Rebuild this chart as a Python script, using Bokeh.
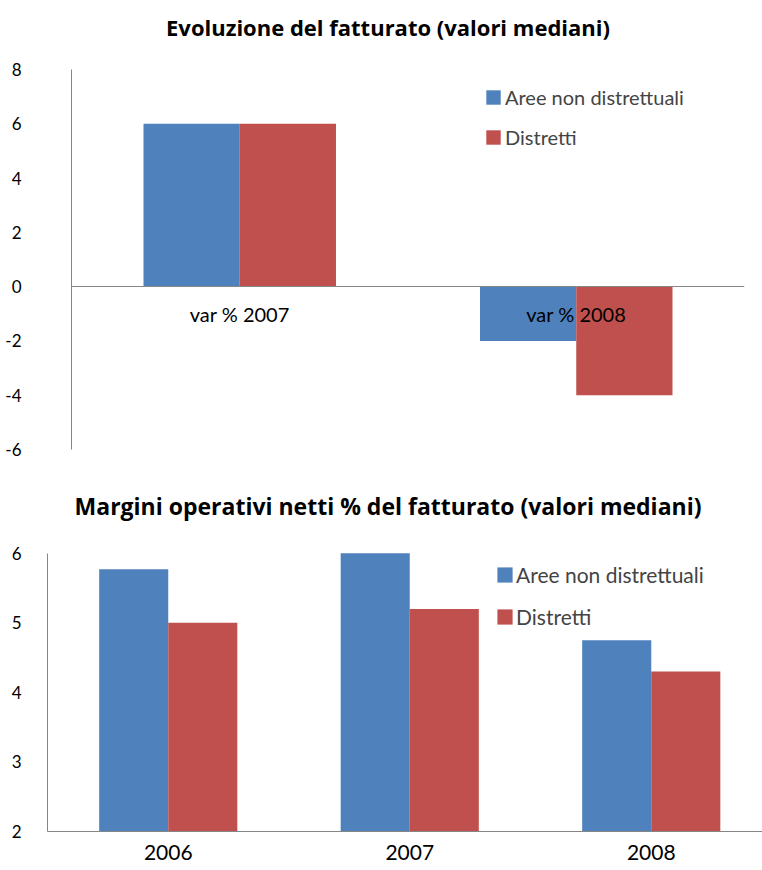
from bokeh.plotting import figure
from bokeh.models import (ColumnDataSource, FactorRange, Range1d, FixedTicker,
                          Legend, LegendItem, Label)
from bokeh.transform import dodge
from bokeh.embed import file_html
from bokeh.resources import INLINE

# ---------------- data ----------------
series = ["Aree non distrettuali", "Distretti"]
series_colors = ["#4F81BD", "#C0504D"]

title1 = "Evoluzione del fatturato (valori mediani)"
categories1 = ["var % 2007", "var % 2008"]
aree1 = [6, -2]
distretti1 = [6, -4]
y1_ticks = [-6, -4, -2, 0, 2, 4, 6, 8]

title2 = "Margini operativi netti % del fatturato (valori mediani)"
years2 = ["2006", "2007", "2008"]
aree2 = [5.77, 6.0, 4.75]
distretti2 = [5.0, 5.2, 4.3]
y2_ticks = [2, 3, 4, 5, 6]

FONT = "Lato"
TITLE_FONT = "Open Sans"
AXIS_COLOR = "#868686"
BAR_W = 0.286


def style_common(p):
    p.grid.visible = False
    p.outline_line_color = None
    p.background_fill_color = "white"
    p.border_fill_color = "white"
    for ax in p.axis:
        ax.axis_line_color = AXIS_COLOR
        ax.axis_line_width = 1
        ax.major_tick_line_color = None
        ax.minor_tick_line_color = None
        ax.major_tick_out = 0
        ax.major_tick_in = 0
        ax.major_label_text_font = FONT
        ax.major_label_text_color = "#000000"


# ---------------- chart 1 ----------------
# frame spans from the top of the figure; the visible axis covers only the data range
px1 = 380 / (max(y1_ticks) - min(y1_ticks))
src1 = ColumnDataSource(dict(cat=categories1, aree=aree1, distretti=distretti1))
p1 = figure(x_range=FactorRange(*categories1),
            y_range=Range1d(min(y1_ticks), max(y1_ticks) + 69 / px1),
            frame_width=673, frame_height=449,
            min_border_left=71, min_border_right=18,
            min_border_top=0, min_border_bottom=40,
            output_backend="svg", toolbar_location=None, tools="")
r1a = p1.vbar(x=dodge("cat", -BAR_W / 2, range=p1.x_range), top="aree", width=BAR_W,
              source=src1, fill_color=series_colors[0], line_color=None)
r1b = p1.vbar(x=dodge("cat", BAR_W / 2, range=p1.x_range), top="distretti", width=BAR_W,
              source=src1, fill_color=series_colors[1], line_color=None)
style_common(p1)
p1.yaxis.ticker = FixedTicker(ticks=y1_ticks)
p1.yaxis.bounds = (min(y1_ticks), max(y1_ticks))
p1.yaxis.major_label_overrides = {t: str(t) for t in y1_ticks}
p1.yaxis.major_label_text_font_size = "17px"
p1.yaxis.major_label_standoff = 50
p1.xaxis.fixed_location = 0
p1.xaxis.major_label_text_font_size = "20px"
p1.xaxis.major_label_standoff = 15

p1.add_layout(Label(x=316.5, y=449 - 26.5, x_units="screen", y_units="screen", text=title1,
                    text_font=TITLE_FONT, text_font_style="bold", text_font_size="22px",
                    text_align="center", text_baseline="middle", text_color="#000000"))

leg1 = Legend(items=[LegendItem(label=series[0], renderers=[r1a]),
                     LegendItem(label=series[1], renderers=[r1b])],
              location=(413, 299), padding=0, margin=0, spacing=14,
              glyph_width=18, glyph_height=18, label_height=26, label_standoff=3,
              label_text_font=FONT, label_text_font_size="20px",
              border_line_color=None, background_fill_alpha=0)
p1.add_layout(leg1)

# ---------------- chart 2 ----------------
px2 = 279 / (max(y2_ticks) - min(y2_ticks))
xpos2 = [i + 0.5 for i in range(len(years2))]
src2 = ColumnDataSource(dict(x=xpos2, aree=aree2, distretti=distretti2))
p2 = figure(x_range=Range1d(0, 715 / 241.5),
            y_range=Range1d(min(y2_ticks), max(y2_ticks) + 64 / px2),
            frame_width=715, frame_height=342,
            min_border_left=47, min_border_right=0,
            min_border_top=0, min_border_bottom=39,
            output_backend="svg", toolbar_location=None, tools="")
r2a = p2.vbar(x=dodge("x", -BAR_W / 2), top="aree", bottom=0, width=BAR_W,
              source=src2, fill_color=series_colors[0], line_color=None)
r2b = p2.vbar(x=dodge("x", BAR_W / 2), top="distretti", bottom=0, width=BAR_W,
              source=src2, fill_color=series_colors[1], line_color=None)
style_common(p2)
p2.yaxis.ticker = FixedTicker(ticks=y2_ticks)
p2.yaxis.bounds = (min(y2_ticks), max(y2_ticks))
p2.yaxis.major_label_text_font_size = "17px"
p2.yaxis.major_label_standoff = 26
p2.xaxis.ticker = FixedTicker(ticks=xpos2)
p2.xaxis.major_label_overrides = {x: y for x, y in zip(xpos2, years2)}
p2.xaxis.major_label_text_font_size = "21px"
p2.xaxis.major_label_standoff = 13

p2.add_layout(Label(x=340.5, y=342 - 16, x_units="screen", y_units="screen", text=title2,
                    text_font=TITLE_FONT, text_font_style="bold", text_font_size="23px",
                    text_align="center", text_baseline="middle", text_color="#000000"))

leg2 = Legend(items=[LegendItem(label=series[0], renderers=[r2a]),
                     LegendItem(label=series[1], renderers=[r2b])],
              location=(448, 201), padding=0, margin=0, spacing=15,
              glyph_width=19, glyph_height=19, label_height=27, label_standoff=2,
              label_text_font=FONT, label_text_font_size="21px",
              border_line_color=None, background_fill_alpha=0)
p2.add_layout(leg2)

open("out.html", "w").write(file_html([p1, p2], INLINE))
